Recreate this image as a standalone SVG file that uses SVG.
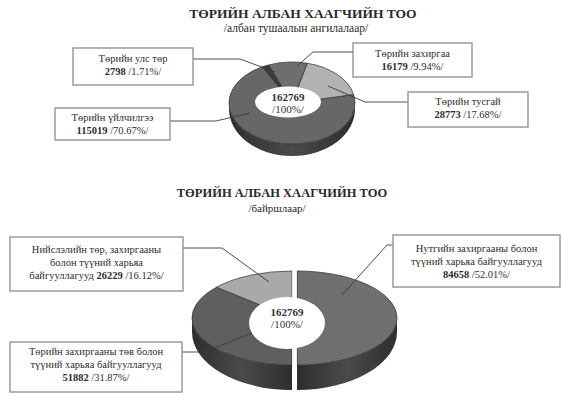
<svg xmlns="http://www.w3.org/2000/svg" width="562" height="394" viewBox="0 0 562 394" font-family="'Liberation Serif', 'Times New Roman', 'DejaVu Serif', serif">
<defs>
<style>
text{font-family:"Liberation Serif","Times New Roman","DejaVu Serif",serif}
.title{font-weight:bold;fill:#2a2a2a;text-anchor:middle}
.sub{fill:#2a2a2a;text-anchor:middle}
.lbl{font-size:10.5px;fill:#2e2e2e;text-anchor:middle}
.b{font-weight:bold}
.box{fill:#fff;stroke:#8c8c8c;stroke-width:1.3}
.lead{fill:none;stroke:#3a3a3a;stroke-width:0.9}
.sep{stroke:#2e2e2e;stroke-width:0.7}
.hole{fill:#fff}
.ctr{font-size:11px;fill:#333;text-anchor:middle}
</style>
<linearGradient id="side" x1="0" y1="0" x2="1" y2="0">
<stop offset="0" stop-color="#2e2e2e"/>
<stop offset="0.5" stop-color="#4a4a4a"/>
<stop offset="1" stop-color="#2e2e2e"/>
</linearGradient>
</defs>
<rect width="562" height="394" fill="#fff"/>

<g id="title1">
<text class="title" x="303" y="18" font-size="13.5">ТӨРИЙН АЛБАН ХААГЧИЙН ТОО</text>
<text class="sub" x="296" y="32" font-size="11.5">/албан тушаалын ангилалаар/</text>
</g>

<g id="donut1">
<path d="M355,103 A63,41 0 0 1 229,103 L229,109 A63,47 0 0 0 355,109 Z" fill="url(#side)"/>
<path class="sep" d="M292,103 L353.62,94.48 A63,41 0 1 1 262.42,66.80 Z" fill="#676767"/>
<path class="sep" d="M292,103 L307.24,63.22 A63,41 0 0 1 353.62,94.48 Z" fill="#b2b2b2"/>
<path class="sep" d="M292,103 L268.40,64.99 A63,41 0 0 1 307.24,63.22 Z" fill="#6e6e6e"/>
<path class="sep" d="M292,103 L262.42,66.80 A63,41 0 0 1 268.40,64.99 Z" fill="#3c3c3c"/>
<ellipse class="hole" cx="288" cy="102" rx="33" ry="15.5"/>
<text class="ctr b" x="288" y="101">162769</text>
<text class="ctr" x="288" y="113">/100%/</text>
</g>

<g id="title2">
<text class="title" x="282" y="197" font-size="12.5">ТӨРИЙН АЛБАН ХААГЧИЙН ТОО</text>
<text class="sub" x="277" y="212" font-size="11">/байршлаар/</text>
</g>

<g id="donut2">
<path d="M397,318 A100,47 0 0 1 297,365 L297,390 A100,58 0 0 0 397,332 Z" fill="url(#side)"/>
<path d="M292,365 A100,47 0 0 1 192,318 L192,332 A100,58 0 0 0 292,390 Z" fill="url(#side)"/>
<path class="sep" d="M297,318 L297,271 A100,47 0 0 1 297,365 Z" fill="#6f6f6f"/>
<path class="sep" d="M292,318 L292,365 A100,47 0 0 1 216.53,287.16 Z" fill="#5f5f5f"/>
<path class="sep" d="M292,318 L216.53,287.16 A100,47 0 0 1 292,271 Z" fill="#a9a9a9"/>
<rect x="292.3" y="265" width="4.4" height="130" fill="#fff"/>
<ellipse class="hole" cx="287" cy="323" rx="38" ry="26"/>
<text class="ctr b" x="287" y="316">162769</text>
<text class="ctr" x="287" y="328">/100%/</text>
</g>

<g id="connectors">
<polyline class="lead" points="193,59 240,59 275,72"/>
<polyline class="lead" points="170,121 216,121 250,113"/>
<polyline class="lead" points="353,52 313,52 297,66"/>
<polyline class="lead" points="408,102 365,102 328,86"/>
<polyline class="lead" points="183,248 222,248 269,282"/>
<polyline class="lead" points="182,352 205,352 252,333"/>
<polyline class="lead" points="393,245 387,245 342,295"/>
</g>

<g id="lbl-uls">
<rect class="box" x="73" y="48" width="120" height="37"/>
<text class="lbl" x="133" y="62">Төрийн улс төр</text>
<text class="lbl" x="133" y="75"><tspan class="b">2798</tspan> /1.71%/</text>
</g>
<g id="lbl-uilchilgee">
<rect class="box" x="55" y="108" width="115" height="32"/>
<text class="lbl" x="112.5" y="121">Төрийн үйлчилгээ</text>
<text class="lbl" x="112.5" y="134"><tspan class="b">115019</tspan> /70.67%/</text>
</g>
<g id="lbl-zahirgaa">
<rect class="box" x="353" y="43" width="119" height="34"/>
<text class="lbl" x="412.5" y="57">Төрийн захиргаа</text>
<text class="lbl" x="412.5" y="70"><tspan class="b">16179</tspan> /9.94%/</text>
</g>
<g id="lbl-tusgai">
<rect class="box" x="408" y="92" width="120" height="35"/>
<text class="lbl" x="468" y="105">Төрийн тусгай</text>
<text class="lbl" x="468" y="118"><tspan class="b">28773</tspan> /17.68%/</text>
</g>
<g id="lbl-niislel">
<rect class="box" x="10" y="237" width="173" height="54"/>
<text class="lbl" x="96.5" y="253">Нийслэлийн төр, захиргааны</text>
<text class="lbl" x="96.5" y="266">болон түүний харьяа</text>
<text class="lbl" x="96.5" y="279">байгууллагууд <tspan class="b">26229</tspan> /16.12%/</text>
</g>
<g id="lbl-tuv">
<rect class="box" x="10" y="342" width="172" height="50"/>
<text class="lbl" x="96" y="355">Төрийн захиргааны төв болон</text>
<text class="lbl" x="96" y="368">түүний харьяа байгууллагууд</text>
<text class="lbl" x="96" y="381"><tspan class="b">51882</tspan> /31.87%/</text>
</g>
<g id="lbl-nutag">
<rect class="box" x="393" y="235" width="167" height="52"/>
<text class="lbl" x="476.5" y="252">Нутгийн захиргааны болон</text>
<text class="lbl" x="476.5" y="265">түүний харьяа байгууллагууд</text>
<text class="lbl" x="476.5" y="278"><tspan class="b">84658</tspan> /52.01%/</text>
</g>
</svg>
